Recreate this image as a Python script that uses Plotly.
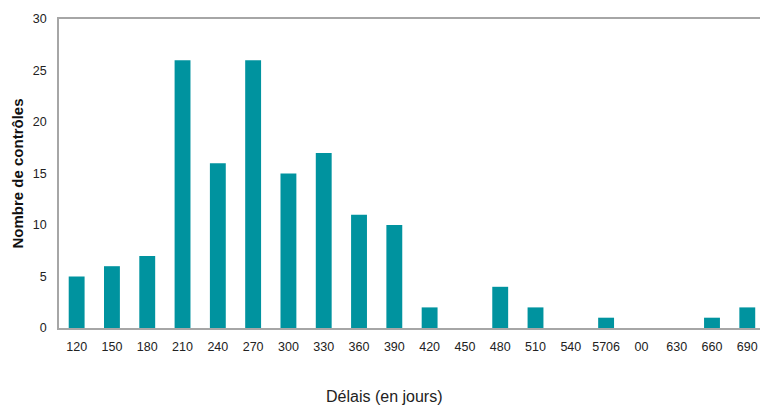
import plotly.graph_objects as go

# Délais (jours) et nombre de contrôles correspondants
delais = [120, 150, 180, 210, 240, 270, 300, 330, 360, 390,
          420, 450, 480, 510, 540, 570, 600, 630, 660, 690]
nombre = [5, 6, 7, 26, 16, 26, 15, 17, 11, 10,
          2, 0, 4, 2, 0, 1, 0, 0, 1, 2]
etiquettes = ["120", "150", "180", "210", "240", "270", "300", "330", "360", "390",
              "420", "450", "480", "510", "540", "5706", "00", "630", "660", "690"]
y_ticks = [0, 5, 10, 15, 20, 25, 30]

TEAL = "#00939f"
AXIS = "#a6a6a6"
FONT = "Liberation Sans, Arial, sans-serif"

positions = list(range(len(delais)))

fig = go.Figure(
    go.Bar(
        x=positions,
        y=nombre,
        width=0.45,
        marker=dict(color=TEAL, line=dict(width=0)),
        customdata=delais,
        hovertemplate="%{customdata} jours: %{y}<extra></extra>",
    )
)

fig.update_layout(
    width=760,
    height=407,
    margin=dict(l=59, r=0, t=19, b=79),
    plot_bgcolor="white",
    paper_bgcolor="white",
    showlegend=False,
    font=dict(family=FONT, color="#222222"),
    xaxis=dict(
        range=[-0.5, 19.36],
        tickmode="array",
        tickvals=positions,
        ticktext=etiquettes,
        tickfont=dict(size=12.5, color="#222222"),
        ticks="outside",
        ticklen=6,
        tickcolor="rgba(0,0,0,0)",
        showline=True,
        linecolor=AXIS,
        linewidth=1.5,
        mirror=True,
        showgrid=False,
        zeroline=False,
        fixedrange=True,
    ),
    yaxis=dict(
        range=[0, 30],
        tickmode="array",
        tickvals=y_ticks,
        tickfont=dict(size=12.5, color="#222222"),
        ticks="outside",
        ticklen=8,
        tickcolor="rgba(0,0,0,0)",
        showline=True,
        linecolor=AXIS,
        linewidth=1.5,
        mirror=False,
        showgrid=False,
        zeroline=False,
        fixedrange=True,
    ),
    annotations=[
        dict(
            text="Délais (en jours)",
            xref="paper", yref="paper",
            x=(384 - 59) / 701, y=-(397 - 328) / 309,
            xanchor="center", yanchor="middle",
            showarrow=False,
            font=dict(size=16, color="#222222", family=FONT),
        ),
        dict(
            text="<b>Nombre de contrôles</b>",
            xref="paper", yref="paper",
            x=-(59 - 17) / 701, y=0.5,
            xanchor="center", yanchor="middle",
            textangle=-90,
            showarrow=False,
            font=dict(size=15, color="#111111", family=FONT),
        ),
    ],
)

fig.write_html("out.html")
